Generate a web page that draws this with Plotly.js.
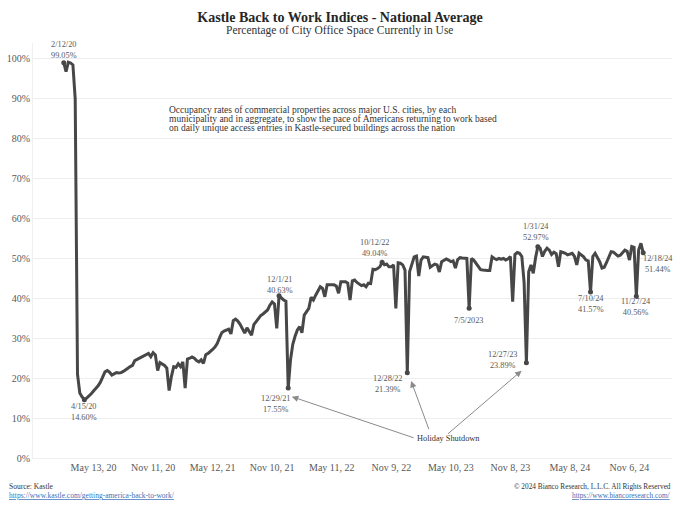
<!DOCTYPE html>
<html><head><meta charset="utf-8">
<script src="https://cdn.plot.ly/plotly-3.0.1.min.js"></script>
<style>html,body{margin:0;padding:0;background:#fff}#chart{width:680px;height:510px}</style>
</head><body><div id="chart"></div>
<script>
// ---------- DATA ----------
const startDate = '2020-02-12'; // weekly series, one value per Wednesday
const occupancy = [
  99.05, 96.8, 99.2, 99.0, 98.5, 90.0, 21.0, 16.3, 15.3, 14.6,
  15.0, 15.5, 16.1, 16.8, 17.4, 18.1, 19.0, 20.3, 21.6, 21.9,
  21.5, 20.8, 21.0, 21.4, 21.3, 21.4, 21.7, 22.0, 22.5, 22.9,
  23.2, 24.4, 24.7, 25.0, 25.3, 25.6, 26.0, 26.2, 25.4, 26.4,
  25.8, 21.9, 23.9, 23.5, 23.2, 22.5, 16.9, 20.4, 22.9, 22.7,
  23.6, 22.9, 24.1, 17.5, 24.8, 25.0, 25.3, 25.0, 24.4, 24.1,
  24.6, 23.7, 25.9, 26.2, 26.6, 27.2, 27.8, 28.7, 30.1, 31.4,
  31.8, 32.0, 32.3, 31.1, 34.4, 34.8, 34.3, 33.5, 32.3, 31.3,
  32.6, 31.8, 30.8, 33.4, 34.2, 34.9, 35.7, 36.1, 36.5, 37.1,
  38.3, 39.1, 38.6, 32.5, 40.63, 40.0, 39.6, 39.3, 17.55, 24.6,
  28.5, 30.5, 32.1, 32.9, 31.4, 35.8, 36.7, 37.5, 40.3, 39.6,
  40.8, 41.7, 42.9, 42.5, 40.4, 43.4, 43.4, 43.4, 43.4, 43.1,
  41.3, 44.2, 44.2, 44.2, 43.8, 39.6, 44.4, 44.6, 44.0, 43.6,
  43.2, 43.4, 42.9, 43.8, 43.7, 47.3, 47.2, 47.5, 47.9, 49.04,
  48.4, 48.6, 47.9, 47.9, 48.4, 37.5, 48.9, 48.8, 48.4, 47.1,
  21.39, 46.7, 48.8, 50.4, 50.6, 45.6, 49.6, 50.4, 50.3, 50.2,
  47.8, 48.2, 48.6, 48.4, 46.6, 49.2, 49.6, 49.9, 49.6, 49.2,
  49.4, 47.6, 49.7, 50.2, 50.1, 50.0, 50.0, 37.5, 50.0, 49.6,
  48.8, 48.0, 47.2, 47.1, 47.0, 47.0, 47.0, 50.4, 50.0, 49.7,
  50.0, 49.8, 50.0, 49.6, 49.9, 50.5, 39.2, 51.0, 51.5, 51.3,
  50.5, 44.0, 23.89, 46.7, 48.4, 46.3, 50.2, 52.97, 52.6, 50.5,
  51.8, 52.6, 52.1, 51.0, 51.6, 51.2, 47.9, 51.7, 51.5, 51.3,
  50.9, 51.1, 51.3, 50.5, 48.4, 51.3, 50.9, 50.4, 49.6, 49.4,
  41.57, 50.5, 51.3, 50.3, 49.2, 47.6, 47.8, 49.0, 50.5, 51.7,
  51.6, 51.2, 50.6, 50.8, 51.5, 52.1, 51.8, 49.6, 53.0, 52.8,
  40.56, 52.1, 53.8, 51.44
];
const tickDates  = ['2020-05-13','2020-11-11','2021-05-12','2021-11-10','2022-05-11','2022-11-09','2023-05-10','2023-11-08','2024-05-08','2024-11-06'];
const tickLabels = ['May 13, 20','Nov 11, 20','May 12, 21','Nov 10, 21','May 11, 22','Nov 9, 22','May 10, 23','Nov 8, 23','May 8, 24','Nov 6, 24'];
const labelDates     = ['2020-02-12','2020-04-15','2021-12-01','2021-12-29','2022-10-12','2022-12-28','2023-07-05','2023-12-27','2024-01-31','2024-07-10','2024-11-27','2024-12-18'];
const labelDateText  = ['2/12/20','4/15/20','12/1/21','12/29/21','10/12/22','12/28/22','7/5/2023','12/27/23','1/31/24','7/10/24','11/27/24','12/18/24'];
const labelValueText = ['99.05%','14.60%','40.63%','17.55%','49.04%','21.39%','','23.89%','52.97%','41.57%','40.56%','51.44%'];
const holidayDates = ['2021-12-29','2022-12-28','2023-12-27'];
const titleText = 'Kastle Back to Work Indices - National Average';
const subtitleText = 'Percentage of City Office Space Currently in Use';
const noteLines = [
  'Occupancy rates of commercial properties across major U.S. cities, by each',
  'municipality and in aggregate, to show the pace of Americans returning to work based',
  'on daily unique access entries in Kastle-secured buildings across the nation'
];
const holidayText = 'Holiday Shutdown';
const sourceText = 'Source: Kastle';
const sourceLink = 'https://www.kastle.com/getting-america-back-to-work/';
const copyrightText = '\u00A9 2024 Bianco Research, L.L.C. All Rights Reserved';
const copyrightLink = 'https://www.biancoresearch.com/';

// ---------- BUILD ----------
function addDays(iso, n){ const d = new Date(iso + 'T00:00:00Z'); d.setUTCDate(d.getUTCDate() + n); return d.toISOString().slice(0,10); }
const dates = occupancy.map((v,i) => addDays(startDate, 7*i));
function valueAt(date){ return occupancy[dates.indexOf(date)]; }

const serif = 'Liberation Serif, Times New Roman, serif';
const lineColor = '#474747';

// label placement (pixels): [xshift, yshift of the label centre]
const labelPlacement = [
  [0, 12.3], [0, -12.2], [1, 10.8], [-12.4, -15.9],
  [-7, 14.2], [-19, -11.8], [0, -12.6], [-23, 2.9],
  [-1.5, 14.2], [0, -12.1], [-0.7, -11.3], [14.5, -11.4]
];
// arrows: [xshift, yshift, ax, ay]
const arrowPlacement = [[3.6, -8.7, 123.3, 41.6], [3.8, -8.3, 18.3, 49.7], [-4.8, -8, -75, 64.3]];

const annotations = [];
labelDates.forEach((d, i) => {
  const p = labelPlacement[i];
  const txt = labelValueText[i] ? labelDateText[i] + '<br>' + labelValueText[i] : labelDateText[i];
  annotations.push({x: d, y: valueAt(d), xref: 'x', yref: 'y', showarrow: false, xanchor: 'center', yanchor: 'middle',
    xshift: p[0], yshift: p[1], text: txt, borderpad: 0, font: {family: serif, size: 8.3, color: '#595959'}});
});
holidayDates.forEach((d, i) => {
  const a = arrowPlacement[i];
  annotations.push({x: d, y: valueAt(d), xref: 'x', yref: 'y', text: '', showarrow: true,
    xshift: a[0], yshift: a[1], ax: a[2], ay: a[3], arrowcolor: '#8a8a8a', arrowwidth: 1,
    arrowhead: 2, arrowsize: 1.3, standoff: 0, startstandoff: 0});
});
annotations.push({xref: 'paper', yref: 'paper', x: 0.651, y: 0.0458, text: holidayText, showarrow: false,
  xanchor: 'center', yanchor: 'middle', font: {family: serif, size: 8.3, color: '#333'}});
noteLines.forEach((t, i) => {
  annotations.push({xref: 'paper', yref: 'paper', x: 0.2117, y: 0.8393 - i*0.0217, text: t, showarrow: false,
    xanchor: 'left', yanchor: 'middle', align: 'left', borderpad: 0, font: {family: serif, size: 9.5, color: '#333'}});
});
annotations.push({xref: 'paper', yref: 'paper', x: 0.4804, y: 1.0313, text: subtitleText, showarrow: false,
  xanchor: 'center', yanchor: 'middle', font: {family: serif, size: 11.5, color: '#333'}});
annotations.push({xref: 'paper', yref: 'paper', x: -0.0391, y: -0.0675, text: sourceText, showarrow: false,
  xanchor: 'left', yanchor: 'middle', borderpad: 0, font: {family: serif, size: 7.5, color: '#333'}});
annotations.push({xref: 'paper', yref: 'paper', x: -0.0391, y: -0.0892, text: '<u>' + sourceLink + '</u>', showarrow: false,
  xanchor: 'left', yanchor: 'middle', borderpad: 0, font: {family: serif, size: 7.5, color: '#3b6fb6'}});
annotations.push({xref: 'paper', yref: 'paper', x: 1.0, y: -0.0675, text: copyrightText, showarrow: false,
  xanchor: 'right', yanchor: 'middle', borderpad: 0, font: {family: serif, size: 7.3, color: '#333'}});
annotations.push({xref: 'paper', yref: 'paper', x: 1.0, y: -0.0892, text: '<u>' + copyrightLink + '</u>', showarrow: false,
  xanchor: 'right', yanchor: 'middle', borderpad: 0, font: {family: serif, size: 7.3, color: '#3b6fb6'}});

const traces = [
  {x: dates, y: occupancy, type: 'scatter', mode: 'lines', line: {color: lineColor, width: 3}, hoverinfo: 'skip'},
  {x: labelDates, y: labelDates.map(valueAt), type: 'scatter', mode: 'markers',
   marker: {color: lineColor, size: 5}, hoverinfo: 'skip'}
];

const layout = {
  width: 680, height: 510,
  margin: {l: 33, r: 8, t: 43, b: 52},
  paper_bgcolor: '#fff', plot_bgcolor: '#fff',
  showlegend: false,
  title: {text: '<b>' + titleText + '</b>', font: {family: serif, size: 14, color: '#262626'},
          x: 0.5, xref: 'container', xanchor: 'center', y: 0.967, yref: 'container', yanchor: 'middle'},
  xaxis: {type: 'date', range: ['2019-11-10', '2025-03-16'], tickvals: tickDates, ticktext: tickLabels,
          showgrid: false, zeroline: false, ticks: '', showline: true, linecolor: '#f0f0f0', linewidth: 1,
          tickfont: {family: serif, size: 10, color: '#595959'}},
  yaxis: {range: [0, 104], dtick: 10, tick0: 0, ticksuffix: '%', showgrid: true, gridcolor: '#eeeeee', gridwidth: 1,
          zeroline: false, ticks: '', showline: true, linecolor: '#f0f0f0', linewidth: 1,
          tickfont: {family: serif, size: 10, color: '#595959'}},
  annotations: annotations
};

Plotly.newPlot('chart', traces, layout, {displayModeBar: false, staticPlot: true});
</script>
</body></html>
